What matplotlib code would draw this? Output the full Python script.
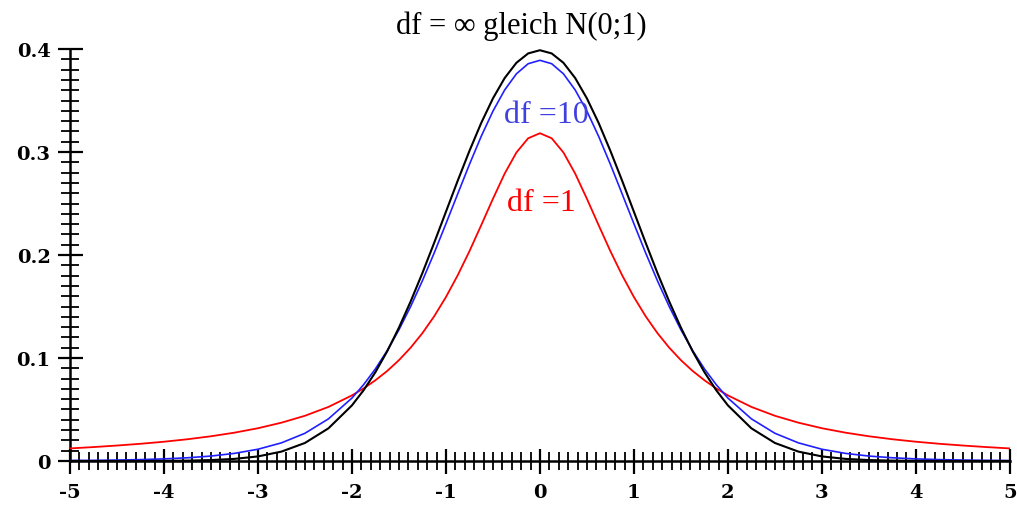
import matplotlib
matplotlib.use("Agg")
import matplotlib.pyplot as plt
from matplotlib.ticker import MultipleLocator, FixedLocator

# values (finer steps near the centre)
x = [-5.0, -4.75, -4.5, -4.25, -4.0, -3.75, -3.5, -3.25, -3.0, -2.75, -2.5,
     -2.25, -2.0, -1.875, -1.75, -1.625, -1.5, -1.375, -1.25, -1.125, -1.0,
     -0.875, -0.75, -0.625, -0.5, -0.375, -0.25, -0.125, 0.0,
     0.125, 0.25, 0.375, 0.5, 0.625, 0.75, 0.875, 1.0,
     1.125, 1.25, 1.375, 1.5, 1.625, 1.75, 1.875, 2.0, 2.25, 2.5,
     2.75, 3.0, 3.25, 3.5, 3.75, 4.0, 4.25, 4.5, 4.75, 5.0]

df_inf = [0.0000015, 0.000005, 0.000016, 0.000048, 0.000134, 0.000353, 0.000873,
          0.00203, 0.00443, 0.0091, 0.0175, 0.0317, 0.0540, 0.0688, 0.0863,
          0.1065, 0.1295, 0.1550, 0.1826, 0.2119, 0.2420,
          0.2721, 0.3011, 0.3282, 0.3521, 0.3719, 0.3867, 0.3958, 0.3989,
          0.3958, 0.3867, 0.3719, 0.3521, 0.3282, 0.3011, 0.2721, 0.2420,
          0.2119, 0.1826, 0.1550, 0.1295, 0.1065, 0.0863, 0.0688, 0.0540,
          0.0317, 0.0175, 0.0091, 0.00443, 0.00203, 0.000873, 0.000353,
          0.000134, 0.000048, 0.000016, 0.000005, 0.0000015]

df_10 = [0.00040, 0.00059, 0.00088, 0.00133, 0.00203, 0.00311, 0.00478,
         0.00738, 0.0114, 0.0176, 0.0269, 0.0409, 0.0611, 0.0742, 0.0895,
         0.1072, 0.1274, 0.1501, 0.1751, 0.2020, 0.2304,
         0.2593, 0.2880, 0.3152, 0.3397, 0.3603, 0.3760, 0.3858, 0.3891,
         0.3858, 0.3760, 0.3603, 0.3397, 0.3152, 0.2880, 0.2593, 0.2304,
         0.2020, 0.1751, 0.1501, 0.1274, 0.1072, 0.0895, 0.0742, 0.0611,
         0.0409, 0.0269, 0.0176, 0.0114, 0.00738, 0.00478, 0.00311,
         0.00203, 0.00133, 0.00088, 0.00059, 0.00040]

df_1 = [0.0122, 0.0135, 0.0150, 0.0167, 0.0187, 0.0211, 0.0240, 0.0275,
        0.0318, 0.0372, 0.0439, 0.0525, 0.0637, 0.0705, 0.0784,
        0.0874, 0.0979, 0.1101, 0.1242, 0.1405, 0.1592,
        0.1803, 0.2037, 0.2289, 0.2546, 0.2791, 0.2996, 0.3134, 0.3183,
        0.3134, 0.2996, 0.2791, 0.2546, 0.2289, 0.2037, 0.1803, 0.1592,
        0.1405, 0.1242, 0.1101, 0.0979, 0.0874, 0.0784, 0.0705, 0.0637,
        0.0525, 0.0439, 0.0372, 0.0318, 0.0275, 0.0240, 0.0211, 0.0187,
        0.0167, 0.0150, 0.0135, 0.0122]

x_ticks = [-5, -4, -3, -2, -1, 0, 1, 2, 3, 4, 5]
x_labels = ["-5", "-4", "-3", "-2", "-1", "0", "1", "2", "3", "4", "5"]
y_ticks = [0, 0.1, 0.2, 0.3, 0.4]
y_labels = ["0", "0.1", "0.2", "0.3", "0.4"]

plt.rcParams['font.family'] = ['Liberation Serif', 'DejaVu Serif']
plt.rcParams['axes.unicode_minus'] = False

fig = plt.figure(figsize=(10.17, 5.06), dpi=100)
ax = fig.add_axes([0.0688, 0.087, 0.9242, 0.814])

ax.plot(x, df_1, color='#ff0000', lw=1.3)
ax.plot(x, df_10, color='#2020ff', lw=1.2)
ax.plot(x, df_inf, color='black', lw=1.5)

ax.text(0.07, 0.336, "df =10", color='#4040e0', fontsize=23, ha='center', va='center')
ax.text(0.02, 0.251, "df =1", color='#ff0000', fontsize=23, ha='center', va='center')
fig.text(0.513, 0.948, "df = \u221e gleich N(0;1)", fontsize=22, ha='center', va='center')

ax.set_xlim(-5, 5)
ax.set_ylim(0, 0.4)
for s in ['top', 'right']:
    ax.spines[s].set_visible(False)
for s in ['left', 'bottom']:
    ax.spines[s].set_linewidth(1.8)
    ax.spines[s].set_zorder(0)

ax.xaxis.set_major_locator(FixedLocator(x_ticks))
ax.xaxis.set_minor_locator(MultipleLocator(0.1))
ax.yaxis.set_major_locator(FixedLocator(y_ticks))
ax.yaxis.set_minor_locator(MultipleLocator(0.01))
ax.set_xticklabels(x_labels)
ax.set_yticklabels(y_labels)

ax.tick_params(which='major', direction='inout', length=18, width=1.6)
ax.tick_params(which='minor', direction='inout', length=13, width=1.3)
ax.tick_params(axis='x', which='major', pad=7)
ax.tick_params(axis='y', which='major', pad=5)
for lab in ax.get_xticklabels() + ax.get_yticklabels():
    lab.set_fontweight('bold')
    lab.set_fontfamily('DejaVu Serif')
    lab.set_fontsize(14)

fig.savefig("out.png", dpi=100)
